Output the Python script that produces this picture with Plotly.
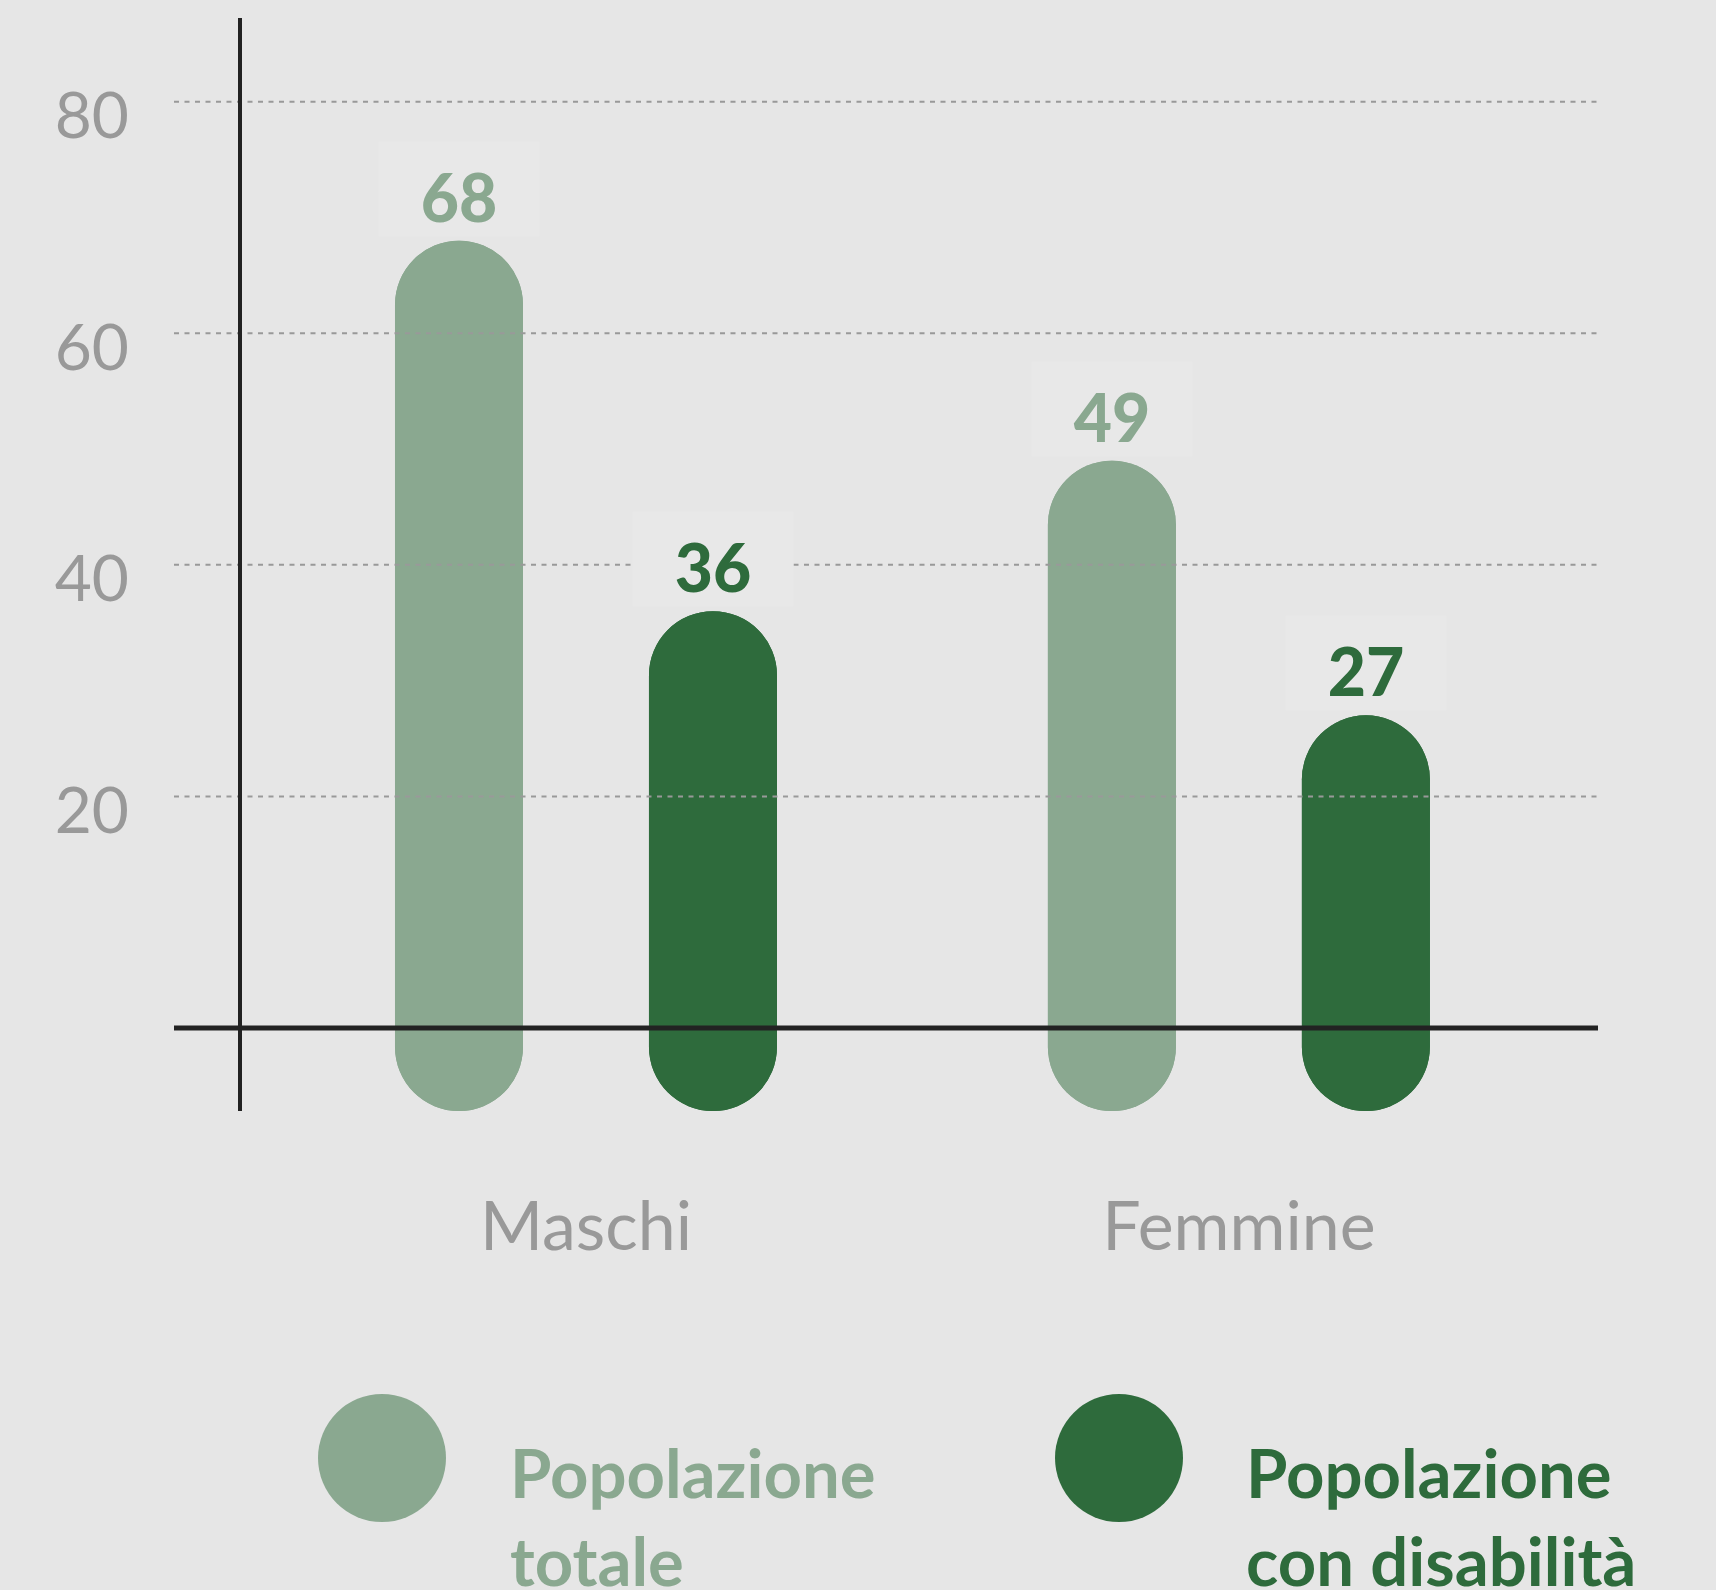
import plotly.graph_objects as go

# ---------------- data ----------------
categories = ["Maschi", "Femmine"]
series_names = ["Popolazione totale", "Popolazione con disabilità"]
legend_lines = [["Popolazione", "totale"], ["Popolazione", "con disabilità"]]
totale = [68, 49]
disabilita = [36, 27]
y_ticks = [20, 40, 60, 80]

# ---------------- style ----------------
COLORS = ["#8aa890", "#2e6b3c"]
BG = "#e6e6e6"
GREY = "#999999"
DARK = "#222222"
FONT = "Lato"

W, H = 1716, 1590
L, R, T, B = 174, 118, 18, 479
PW, PH = W - L - R, H - T - B
Y_RANGE = [-7.17, 87.23]
X_RANGE = [-0.631, 1.550]
BAR_FLOOR = Y_RANGE[0]          # capsule bottom sits at bottom of plot area
SLOT_SHIFT = [-127, 127]        # pixel offset of each series within a group


def px_x(px):
    return (px - L) / PW


def px_y(py):
    return (H - B - py) / PH


fig = go.Figure()

for name, vals, col in zip(series_names, [totale, disabilita], COLORS):
    # upper part: from floor up to value, rounded top
    fig.add_trace(go.Bar(
        x=categories, y=[v - BAR_FLOOR for v in vals], base=BAR_FLOOR,
        offsetgroup=name, name=name, showlegend=False, cliponaxis=False,
        marker=dict(color=col, line=dict(width=0)), hoverinfo="skip",
    ))
    # lower part: from value down to floor, rounded bottom
    fig.add_trace(go.Bar(
        x=categories, y=[BAR_FLOOR - v for v in vals], base=vals,
        offsetgroup=name, name=name, showlegend=False, cliponaxis=False,
        marker=dict(color=col, line=dict(width=0)), hoverinfo="skip",
    ))

shapes = []
# dotted gridlines above the bars
for t in y_ticks:
    shapes.append(dict(type="line", xref="paper", yref="y", x0=0, x1=1, y0=t, y1=t,
                       line=dict(color=GREY, width=2, dash="5px,5.5px"), layer="above"))
# zero line
shapes.append(dict(type="line", xref="paper", yref="y", x0=0, x1=1, y0=0, y1=0,
                   line=dict(color=DARK, width=5), layer="above"))
# vertical axis line
shapes.append(dict(type="line", xref="paper", yref="paper", x0=px_x(240), x1=px_x(240),
                   y0=0, y1=1, line=dict(color=DARK, width=4), layer="above"))

annotations = []
# value labels: faint background box + bold number
for si, (vals, col) in enumerate(zip([totale, disabilita], COLORS)):
    for cat, v in zip(categories, vals):
        annotations.append(dict(
            x=cat, y=v, xref="x", yref="y", text=" ", showarrow=False,
            xshift=SLOT_SHIFT[si], yshift=4, xanchor="center", yanchor="bottom",
            width=160, height=94, bgcolor="#e8e8e8", borderpad=0,
            font=dict(family=FONT, size=10, color=col),
        ))
        annotations.append(dict(
            x=cat, y=v, xref="x", yref="y", text=f"{v}", showarrow=False,
            xshift=SLOT_SHIFT[si], yshift=-4, xanchor="center", yanchor="bottom",
            width=160, height=94,
            font=dict(family=FONT, size=66, color=col, weight=900),
        ))

# legend: circles + two-line labels
legend_cx = [382, 1119]
legend_tx = [508, 1244]
for i, col in enumerate(COLORS):
    cx, cy, r = legend_cx[i], 1458, 64
    shapes.append(dict(type="circle", xref="paper", yref="paper",
                       x0=px_x(cx - r), x1=px_x(cx + r), y0=px_y(cy + r), y1=px_y(cy - r),
                       fillcolor=col, line=dict(width=0), layer="above"))
    for li, line in enumerate(legend_lines[i]):
        annotations.append(dict(
            x=px_x(legend_tx[i]), y=px_y(1472 + 88 * li), xref="paper", yref="paper",
            text=line, showarrow=False, xanchor="left", yanchor="middle",
            font=dict(family=FONT, size=67, color=col, weight=700),
        ))

fig.update_layout(
    width=W, height=H,
    margin=dict(l=L, r=R, t=T, b=B, pad=0),
    paper_bgcolor=BG, plot_bgcolor=BG,
    barmode="group", bargap=0.222, bargroupgap=0.496,
    barcornerradius="50%",
    showlegend=False,
    shapes=shapes, annotations=annotations,
    xaxis=dict(range=X_RANGE, showgrid=False, zeroline=False, showline=False,
               ticks="", ticklabelstandoff=70,
               tickfont=dict(family=FONT, size=68, color=GREY)),
    yaxis=dict(range=Y_RANGE, tickvals=y_ticks, showgrid=False, zeroline=False,
               showline=False, ticks="", ticklabelstandoff=44, ticklabelshift=14,
               tickfont=dict(family=FONT, size=64, color=GREY)),
)

fig.write_html("out.html", config={"displayModeBar": False},
               post_script="document.body.style.margin='0';")
